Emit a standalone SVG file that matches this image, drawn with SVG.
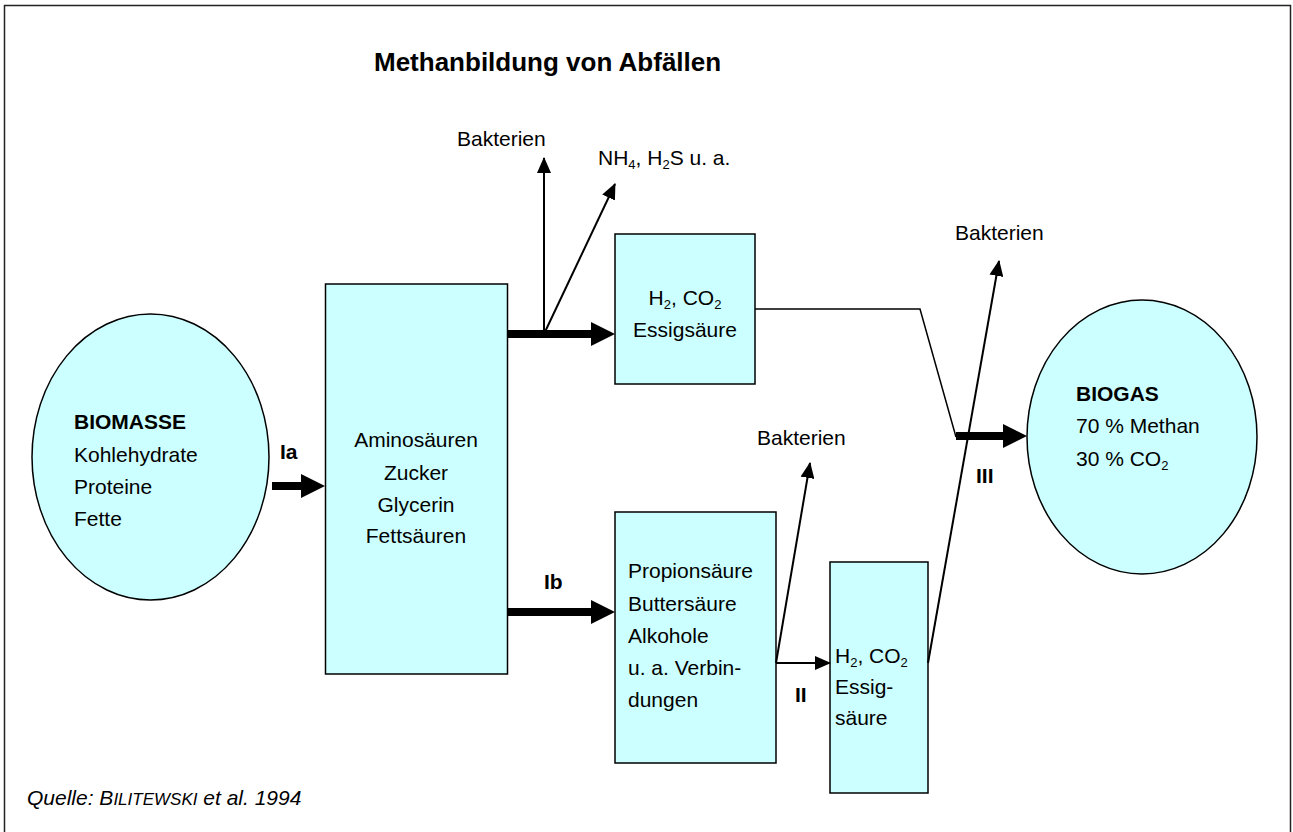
<svg xmlns="http://www.w3.org/2000/svg" width="1293" height="832" viewBox="0 0 1293 832">
<style>
text{font-family:"Liberation Sans",Arial,sans-serif;font-size:21px;fill:#000}
.b{font-weight:bold}
.t{font-weight:bold;font-size:26px}
.sub{font-size:13px}
.node{fill:#ccffff;stroke:#000;stroke-width:1.5}
.thin{fill:none;stroke:#000;stroke-width:2}
.line{fill:none;stroke:#000;stroke-width:1.5}
.thick{fill:none;stroke:#000;stroke-width:8}
</style>
<defs>
<marker id="ah" markerUnits="userSpaceOnUse" markerWidth="16" markerHeight="14" refX="15" refY="7" orient="auto">
<path d="M0,0 L16,7 L0,14 z" fill="#000"/>
</marker>
<marker id="AH" markerUnits="userSpaceOnUse" markerWidth="24" markerHeight="24" refX="4" refY="12" orient="auto">
<path d="M0,0 L24,12 L0,24 z" fill="#000"/>
</marker>
</defs>
<rect x="4.5" y="5.5" width="1286" height="840" fill="#fff" stroke="#222" stroke-width="1.5"/>
<text class="t" x="374" y="71">Methanbildung von Abfällen</text>

<g id="biomasse">
<ellipse class="node" cx="150.5" cy="457" rx="118.5" ry="143"/>
<text class="b" x="74" y="429">BIOMASSE</text>
<text x="74" y="462">Kohlehydrate</text>
<text x="74" y="494">Proteine</text>
<text x="74" y="526">Fette</text>
</g>

<g id="zwischen">
<rect class="node" x="325.5" y="284" width="182" height="390"/>
<text x="416" y="447" text-anchor="middle">Aminosäuren</text>
<text x="416" y="480" text-anchor="middle">Zucker</text>
<text x="416" y="512" text-anchor="middle">Glycerin</text>
<text x="416" y="543" text-anchor="middle">Fettsäuren</text>
</g>

<g id="essig1">
<rect class="node" x="615" y="234" width="140" height="150"/>
<text x="685" y="305" text-anchor="middle">H<tspan class="sub" dy="4">2</tspan><tspan dy="-4">, CO</tspan><tspan class="sub" dy="4">2</tspan></text>
<text x="685" y="337" text-anchor="middle">Essigsäure</text>
</g>

<g id="propion">
<rect class="node" x="615" y="512" width="161" height="251"/>
<text x="628" y="578">Propionsäure</text>
<text x="628" y="611">Buttersäure</text>
<text x="628" y="643">Alkohole</text>
<text x="628" y="675">u. a. Verbin-</text>
<text x="628" y="707">dungen</text>
</g>

<g id="essig2">
<rect class="node" x="830" y="562" width="98" height="231"/>
<text x="835" y="663">H<tspan class="sub" dy="4">2</tspan><tspan dy="-4">, CO</tspan><tspan class="sub" dy="4">2</tspan></text>
<text x="835" y="694">Essig-</text>
<text x="835" y="725">säure</text>
</g>

<g id="biogas">
<ellipse class="node" cx="1142" cy="437" rx="115" ry="137"/>
<text class="b" x="1076" y="401">BIOGAS</text>
<text x="1076" y="433">70 % Methan</text>
<text x="1076" y="466">30 % CO<tspan class="sub" dy="4">2</tspan></text>
</g>

<g id="connectors">
<line class="thick" x1="272" y1="486" x2="305" y2="486" marker-end="url(#AH)"/>
<line class="thick" x1="507" y1="334" x2="595" y2="334" marker-end="url(#AH)"/>
<line class="thick" x1="507" y1="612" x2="595" y2="612" marker-end="url(#AH)"/>
<line class="thick" x1="956" y1="436" x2="1007" y2="436" marker-end="url(#AH)"/>
<line class="thin" x1="544" y1="334" x2="544" y2="158" marker-end="url(#ah)"/>
<line class="thin" x1="544" y1="334" x2="615" y2="184" marker-end="url(#ah)"/>
<polyline class="line" points="755,309 920,309 956,437"/>
<line class="thin" x1="776" y1="663" x2="830" y2="663" marker-end="url(#ah)"/>
<line class="thin" x1="776" y1="663" x2="810" y2="463" marker-end="url(#ah)"/>
<line class="thin" x1="928" y1="663" x2="999" y2="261" marker-end="url(#ah)"/>
</g>

<g id="labels">
<text class="b" x="280" y="459">Ia</text>
<text class="b" x="544" y="589">Ib</text>
<text class="b" x="795" y="702">II</text>
<text class="b" x="976" y="483">III</text>
<text x="457" y="146">Bakterien</text>
<text x="598" y="165">NH<tspan class="sub" dy="4">4</tspan><tspan dy="-4">, H</tspan><tspan class="sub" dy="4">2</tspan><tspan dy="-4">S u. a.</tspan></text>
<text x="757" y="445">Bakterien</text>
<text x="955" y="240">Bakterien</text>
<text x="27" y="805" font-style="italic">Quelle: B<tspan font-size="17">ILITEWSKI</tspan> et al. 1994</text>
</g>
</svg>
